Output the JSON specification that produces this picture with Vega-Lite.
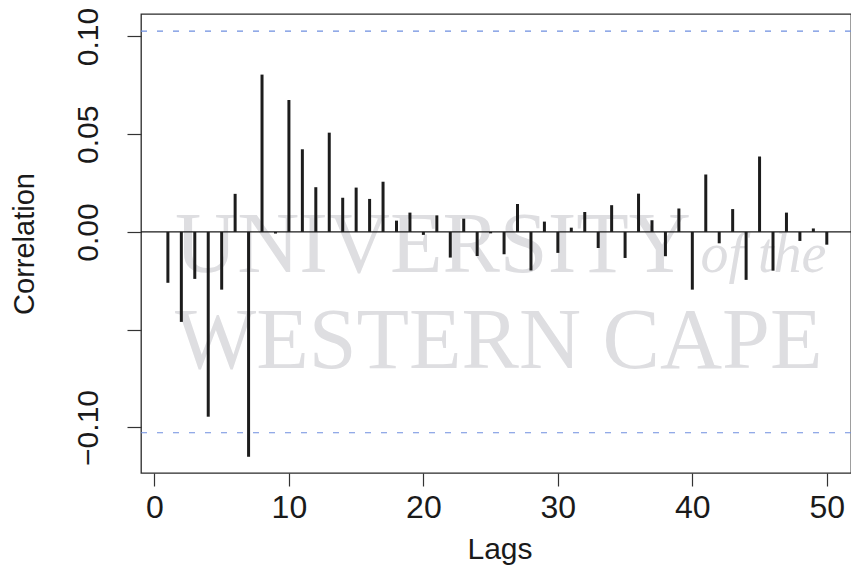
{
  "$schema": "https://vega.github.io/schema/vega-lite/v6.json",
  "width": 710,
  "height": 459,
  "autosize": {"type": "none"},
  "padding": {"left": 141, "top": 14, "right": 0, "bottom": 99},
  "background": "white",
  "config": {
    "view": {"stroke": "#2a2a2a", "strokeWidth": 1.3},
    "font": "Liberation Sans"
  },
  "datasets": {
    "acf": [
      {"lag": 1, "r": -0.026}, {"lag": 2, "r": -0.046}, {"lag": 3, "r": -0.024},
      {"lag": 4, "r": -0.0945}, {"lag": 5, "r": -0.0295}, {"lag": 6, "r": 0.0195},
      {"lag": 7, "r": -0.115}, {"lag": 8, "r": 0.0805}, {"lag": 9, "r": -0.0008},
      {"lag": 10, "r": 0.0675}, {"lag": 11, "r": 0.0423}, {"lag": 12, "r": 0.0229},
      {"lag": 13, "r": 0.0508}, {"lag": 14, "r": 0.0175}, {"lag": 15, "r": 0.0227},
      {"lag": 16, "r": 0.0169}, {"lag": 17, "r": 0.0257}, {"lag": 18, "r": 0.0058},
      {"lag": 19, "r": 0.0099}, {"lag": 20, "r": -0.0015}, {"lag": 21, "r": 0.0085},
      {"lag": 22, "r": -0.0131}, {"lag": 23, "r": 0.0068}, {"lag": 24, "r": -0.0123},
      {"lag": 25, "r": -0.0007}, {"lag": 26, "r": -0.0114}, {"lag": 27, "r": 0.0143},
      {"lag": 28, "r": -0.0197}, {"lag": 29, "r": 0.0053}, {"lag": 30, "r": -0.0107},
      {"lag": 31, "r": 0.0022}, {"lag": 32, "r": 0.0102}, {"lag": 33, "r": -0.0082},
      {"lag": 34, "r": 0.0137}, {"lag": 35, "r": -0.0133}, {"lag": 36, "r": 0.0196},
      {"lag": 37, "r": 0.006}, {"lag": 38, "r": -0.0124}, {"lag": 39, "r": 0.012},
      {"lag": 40, "r": -0.0295}, {"lag": 41, "r": 0.0294}, {"lag": 42, "r": -0.0058},
      {"lag": 43, "r": 0.0117}, {"lag": 44, "r": -0.0245}, {"lag": 45, "r": 0.0386},
      {"lag": 46, "r": -0.0198}, {"lag": 47, "r": 0.0099}, {"lag": 48, "r": -0.0046},
      {"lag": 49, "r": 0.0018}, {"lag": 50, "r": -0.0065}
    ],
    "ci": [{"r": 0.1027}, {"r": -0.1027}],
    "zero": [{"r": 0}],
    "wm_upright": [
      {"lag": 1.53, "r": -0.0205, "text": "UNIVERSITY"},
      {"lag": 1.53, "r": -0.0696, "text": "WESTERN CAPE"}
    ],
    "wm_italic": [
      {"lag": 40.6, "r": -0.0205, "text": "of the"}
    ]
  },
  "layer": [
    {
      "data": {"name": "wm_upright"},
      "mark": {"type": "text", "font": "Liberation Serif", "fontSize": 86, "color": "#dedee1", "align": "left", "baseline": "alphabetic"},
      "encoding": {
        "x": {"field": "lag", "type": "quantitative"},
        "y": {"field": "r", "type": "quantitative"},
        "text": {"field": "text"}
      }
    },
    {
      "data": {"name": "wm_italic"},
      "mark": {"type": "text", "font": "Liberation Serif", "fontStyle": "italic", "fontSize": 56, "color": "#dedee1", "align": "left", "baseline": "alphabetic"},
      "encoding": {
        "x": {"field": "lag", "type": "quantitative"},
        "y": {"field": "r", "type": "quantitative"},
        "text": {"field": "text"}
      }
    },
    {
      "data": {"name": "ci"},
      "mark": {"type": "rule", "color": "#6f8fe0", "strokeWidth": 1.2, "strokeDash": [6, 10]},
      "encoding": {
        "y": {"field": "r", "type": "quantitative"}
      }
    },
    {
      "data": {"name": "zero"},
      "mark": {"type": "rule", "color": "#1a1a1a", "strokeWidth": 1.2},
      "encoding": {
        "y": {"field": "r", "type": "quantitative"}
      }
    },
    {
      "data": {"name": "acf"},
      "mark": {"type": "rule", "color": "#1c1c1c", "strokeWidth": 3, "strokeCap": "butt"},
      "encoding": {
        "x": {
          "field": "lag", "type": "quantitative",
          "scale": {"domain": [-1.0, 51.8], "nice": false, "zero": false},
          "axis": {
            "title": "Lags", "titleFontSize": 30, "titleFontWeight": "normal", "titleColor": "#1a1a1a",
            "titleX": 358.5, "titleY": 85, "titleBaseline": "alphabetic", "titleAlign": "center",
            "values": [0, 10, 20, 30, 40, 50], "format": "d",
            "labelFontSize": 32, "labelColor": "#1a1a1a", "labelBaseline": "alphabetic",
            "labelPadding": 31, "labelFlush": false, "labelOverlap": false,
            "tickSize": 13, "tickColor": "#333", "tickWidth": 1.2,
            "domain": false, "grid": false
          }
        },
        "y": {
          "field": "r", "type": "quantitative",
          "scale": {"domain": [-0.1233, 0.1115], "nice": false, "zero": false},
          "axis": {
            "title": "Correlation", "titleFontSize": 29, "titleFontWeight": "normal", "titleColor": "#1a1a1a",
            "titleAngle": 270, "titleX": -108, "titleY": 229.5, "titleBaseline": "alphabetic", "titleAlign": "center",
            "values": [-0.1, -0.05, 0, 0.05, 0.1],
            "labelExpr": "datum.value == -0.05 ? '' : replace(format(datum.value, '.2f'), '-', '\u2212')",
            "labelAngle": 270, "labelAlign": "center", "labelBaseline": "alphabetic",
            "labelFontSize": 30, "labelColor": "#1a1a1a", "labelPadding": 30,
            "labelFlush": false, "labelOverlap": false,
            "tickSize": 14, "tickColor": "#333", "tickWidth": 1.2,
            "domain": false, "grid": false
          }
        },
        "y2": {"datum": 0}
      }
    }
  ]
}
